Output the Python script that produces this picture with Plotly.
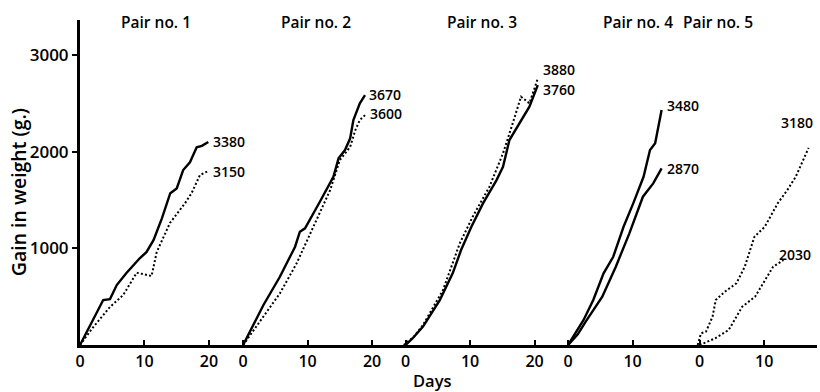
import plotly.graph_objects as go

# ---------------- data (days from start of each pair, gain in weight g.) ----------------
p1_solid_days = [0, 3.6, 4.65, 5.7, 7.2, 9.3, 10.3, 11.4, 12.7, 14, 15, 16, 17.05, 18.1, 18.9, 19.9]
p1_solid_gain = [0, 465, 475, 620, 745, 900, 960, 1085, 1310, 1570, 1620, 1810, 1890, 2045, 2060, 2100]
p1_dot_days = [0, 2.06, 4.65, 6.7, 8.8, 11.1, 11.9, 13.95, 16.3, 17.3, 18.6, 19.9]
p1_dot_gain = [0, 186, 393, 517, 748, 714, 962, 1262, 1468, 1570, 1758, 1800]

p2_solid_days = [0, 3.15, 5.7, 8.06, 8.8, 9.6, 11.9, 14, 14.8, 15.8, 16.6, 17.1, 18.1, 18.9]
p2_solid_gain = [0, 414, 706, 1017, 1172, 1207, 1482, 1740, 1931, 2017, 2138, 2327, 2500, 2585]
p2_dot_days = [0, 3.15, 5.7, 8.3, 11.4, 13.5, 15.0, 16.6, 17.4, 18.1, 18.9]
p2_dot_gain = [0, 293, 534, 845, 1293, 1603, 1913, 2050, 2223, 2327, 2378]

p3_solid_days = [0, 1.1, 2.7, 5.3, 7.3, 8.6, 10.2, 12, 14.1, 15.1, 16.1, 17.7, 19.2, 20.5]
p3_solid_gain = [0, 70, 190, 465, 741, 982, 1223, 1465, 1706, 1844, 2120, 2293, 2465, 2689]
p3_dot_days = [-0.3, 1.2, 2.7, 5.8, 8.4, 10.4, 13, 15.1, 16.6, 17.9, 19.2, 20.5]
p3_dot_gain = [0, 80, 207, 569, 1052, 1327, 1637, 1982, 2293, 2568, 2500, 2758]

p4_upper_days = [0, 0.8, 2.4, 3.9, 5.5, 7.0, 8.6, 10.1, 11.7, 12.7, 13.5, 14.5]
p4_upper_gain = [0, 86, 259, 465, 741, 913, 1223, 1465, 1740, 2017, 2086, 2430]
p4_lower_days = [0, 1.5, 2.7, 5.3, 7.4, 9.5, 11.6, 13.2, 14.5]
p4_lower_gain = [0, 110, 240, 500, 810, 1155, 1534, 1672, 1827]

p5_upper_days = [-0.3, 0.2, 1.0, 2.0, 2.5, 3.9, 5.7, 7.0, 8.5, 10.1, 12.1, 13.6, 14.9, 16.9]
p5_upper_gain = [0, 120, 140, 293, 465, 551, 638, 810, 1120, 1223, 1465, 1603, 1740, 2040]
p5_lower_days = [0, 2.4, 4.5, 6.6, 8.6, 10.1, 11.4, 13]
p5_lower_gain = [0, 69, 155, 396, 500, 672, 810, 879]

end_labels = ["3380", "3150", "3670", "3600", "3760", "3880", "3480", "2870", "3180", "2030"]
pair_titles = ["Pair no. 1", "Pair no. 2", "Pair no. 3", "Pair no. 4", "Pair no. 5"]
x_tick_days = [[0, 10, 20], [0, 10, 20], [0, 10, 20], [0, 10], [0, 10]]
y_ticks = [1000, 2000, 3000]

# ---------------- layout (positions of each pair on the shared day axis) ----------------
panel_offset = [0, 25.3, 50.5, 75.7, 96.1]
title_pos = [11.8, 11.3, 11.9, 10.9, 2.8]

series = [
    (0, p1_solid_days, p1_solid_gain, "solid"),
    (0, p1_dot_days, p1_dot_gain, "dot"),
    (1, p2_solid_days, p2_solid_gain, "solid"),
    (1, p2_dot_days, p2_dot_gain, "dot"),
    (2, p3_solid_days, p3_solid_gain, "solid"),
    (2, p3_dot_days, p3_dot_gain, "dot"),
    (3, p4_upper_days, p4_upper_gain, "solid"),
    (3, p4_lower_days, p4_lower_gain, "solid"),
    (4, p5_upper_days, p5_upper_gain, "dot"),
    (4, p5_lower_days, p5_lower_gain, "dot"),
]
label_shift = [(3, 1, "left", "middle"), (3, 0, "left", "middle"),
               (2, 1, "left", "middle"), (3, 2, "left", "middle"),
               (3, -4, "left", "middle"), (3, 9, "left", "middle"),
               (3, 5, "left", "middle"), (3, 0, "left", "middle"),
               (6, 14, "right", "bottom"), (-6, 6, "left", "middle")]

FONT = "Open Sans"
W = 600
fig = go.Figure()
annotations = []
for i, (p, d, g, style) in enumerate(series):
    xs = [v + panel_offset[p] for v in d]
    if style == "solid":
        line = dict(color="black", width=2.4)
    else:
        line = dict(color="black", width=2, dash="2px,2.2px")
    fig.add_trace(go.Scatter(x=xs, y=g, mode="lines", line=line, showlegend=False,
                             hoverinfo="skip"))
    xsft, ysft, xa, ya = label_shift[i]
    annotations.append(dict(x=xs[-1], y=g[-1], xref="x", yref="y", text=end_labels[i],
                            showarrow=False, xanchor=xa, yanchor=ya, xshift=xsft, yshift=ysft,
                            font=dict(family=FONT, size=14, color="black", weight=W)))

for p, t in enumerate(pair_titles):
    annotations.append(dict(x=title_pos[p] + panel_offset[p], y=1, xref="x", yref="paper",
                            text=t, showarrow=False, xanchor="center", yanchor="middle",
                            yshift=-2, font=dict(family=FONT, size=15.5, color="black", weight=W)))

annotations.append(dict(x=0, y=0.47, xref="paper", yref="paper", text="Gain in weight (g.)",
                        textangle=-90, showarrow=False, xanchor="center", yanchor="middle",
                        xshift=-62, font=dict(family=FONT, size=19.5, color="black", weight=W)))
annotations.append(dict(x=0.478, y=-0.11, xref="paper", yref="paper", text="Days",
                        showarrow=False, xanchor="center", yanchor="middle",
                        font=dict(family=FONT, size=16.5, color="black", weight=W)))

tickvals, ticktext = [], []
for p, ticks in enumerate(x_tick_days):
    for t in ticks:
        tickvals.append(t + panel_offset[p])
        ticktext.append(str(t))

fig.update_layout(
    width=820, height=392,
    margin=dict(l=80, r=3, t=20, b=47),
    paper_bgcolor="white", plot_bgcolor="white",
    annotations=annotations,
    font=dict(family=FONT, color="black"),
    xaxis=dict(range=[0, 114.3], tickvals=tickvals, ticktext=ticktext,
               showline=True, linewidth=3, linecolor="black", showgrid=False, zeroline=False,
               ticks="inside", ticklen=5, tickwidth=2, tickcolor="black",
               tickfont=dict(family=FONT, size=16, color="black", weight=W)),
    yaxis=dict(range=[0, 3362], tickvals=y_ticks, ticktext=[str(v) for v in y_ticks],
               showline=True, linewidth=3, linecolor="black", showgrid=False, zeroline=False,
               ticks="outside", ticklen=5, tickwidth=2, tickcolor="black",
               tickfont=dict(family=FONT, size=17, color="black", weight=W)),
)

fig.write_html("out.html")
